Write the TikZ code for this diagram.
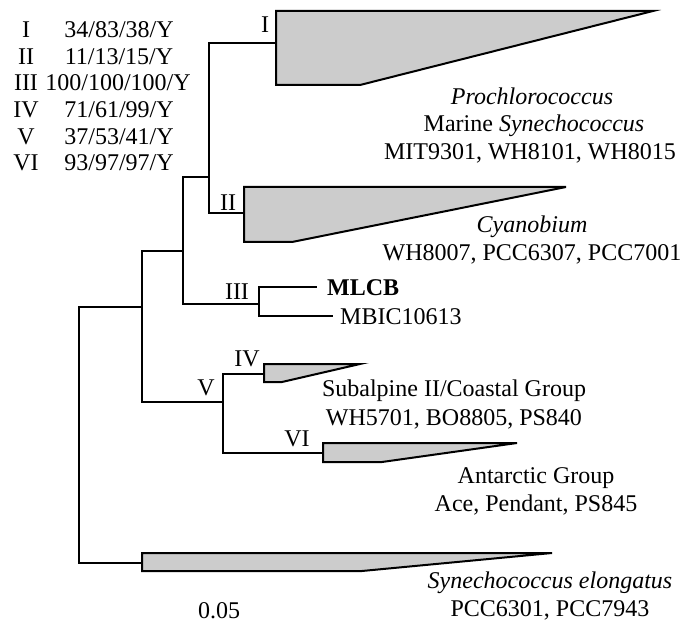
\documentclass[tikz,border=0pt]{standalone}
\usepackage{fontspec}
\setmainfont{Liberation Serif}
\newcommand\fsz{\fontsize{24}{28}\selectfont}
\definecolor{cladegray}{RGB}{204,204,204}
\begin{document}
\begin{tikzpicture}[x=1pt,y=-1pt,
  br/.style={line width=2pt, line join=miter},
  clade/.style={draw, line width=2pt, fill=cladegray, line join=miter},
  txt/.style={font=\fsz, inner sep=0pt, anchor=base},
  txtw/.style={font=\fsz, inner sep=0pt, anchor=base west}]
\useasboundingbox (0,0) rectangle (697,623);
% tree nodes
\coordinate (R) at (79,430);
\coordinate (N142) at (142,307);
\coordinate (N183) at (183,251);
\coordinate (N209) at (209,177);
\coordinate (N259) at (259,304);
\coordinate (N223) at (223,402);
% leaf attachment points
\coordinate (T1) at (276,43);
\coordinate (T2) at (244,213);
\coordinate (L1) at (317,287);
\coordinate (L2) at (333,316);
\coordinate (T4) at (264,374);
\coordinate (T6) at (323,453);
\coordinate (T7) at (142,563);
% collapsed clades
\filldraw[clade] (276,11) -- (653,11) -- (360,85) -- (276,85) -- cycle;
\filldraw[clade] (244,187) -- (566,187) -- (292,242) -- (244,242) -- cycle;
\filldraw[clade] (264,364) -- (360,364) -- (282,382) -- (264,382) -- cycle;
\filldraw[clade] (323,443) -- (517,443) -- (382,462) -- (323,462) -- cycle;
\filldraw[clade] (142,553) -- (552,553) -- (362,571) -- (142,571) -- cycle;
% branches
\draw[br] (R) |- (N142);
\draw[br] (R) |- (T7);
\draw[br] (N142) |- (N183);
\draw[br] (N142) |- (N223);
\draw[br] (N183) |- (N209);
\draw[br] (N183) |- (N259);
\draw[br] (N209) |- (T1);
\draw[br] (N209) |- (T2);
\draw[br] (N259) |- (L1);
\draw[br] (N259) |- (L2);
\draw[br] (N223) |- (T4);
\draw[br] (N223) |- (T6);
% table
\node[txt] (r1a) at (26,38) {I};
\node[txt] (r2a) at (26,65) {II};
\node[txt] (r3a) at (26,91) {III};
\node[txt] (r4a) at (26,118) {IV};
\node[txt] (r5a) at (26,145) {V};
\node[txt] (r6a) at (26,171) {VI};
\node[txt] (r1b) at (119,38) {34/83/38/Y};
\node[txt] (r2b) at (119,65) {11/13/15/Y};
\node[txt] (r3b) at (118,91) {100/100/100/Y};
\node[txt] (r4b) at (119,118) {71/61/99/Y};
\node[txt] (r5b) at (119,145) {37/53/41/Y};
\node[txt] (r6b) at (119,171) {93/97/97/Y};
% clade labels
\node[txt] (cI) at (265,33) {I};
\node[txt] (cII) at (228,211) {II};
\node[txt] (cIII) at (237,299) {III};
\node[txt] (cIV) at (247,366) {IV};
\node[txt] (cV) at (206,395) {V};
\node[txt] (cVI) at (297,446) {VI};
% clade texts
\node[txt] (p1) at (532,105) {\itshape Prochlorococcus};
\node[txt] (p2) at (534,132) {Marine \textit{Synechococcus}};
\node[txt] (p3) at (530,160) {MIT9301, WH8101, WH8015};
\node[txt] (c1) at (532,233) {\itshape Cyanobium};
\node[txt] (c2) at (532,261) {WH8007, PCC6307, PCC7001};
\node[txtw] (m1) at (327,295) {\bfseries MLCB};
\node[txtw] (m2) at (340,324) {MBIC10613};
\node[txt] (s1) at (454,396) {Subalpine II/Coastal Group};
\node[txt] (s2) at (454,425) {WH5701, BO8805, PS840};
\node[txt] (a1) at (536,483) {Antarctic Group};
\node[txt] (a2) at (536,511) {Ace, Pendant, PS845};
\node[txt] (e1) at (550,588) {\itshape Synechococcus elongatus};
\node[txt] (e2) at (550,616) {PCC6301, PCC7943};
\node[txt] (sc) at (219,618) {0.05};
\end{tikzpicture}
\end{document}
